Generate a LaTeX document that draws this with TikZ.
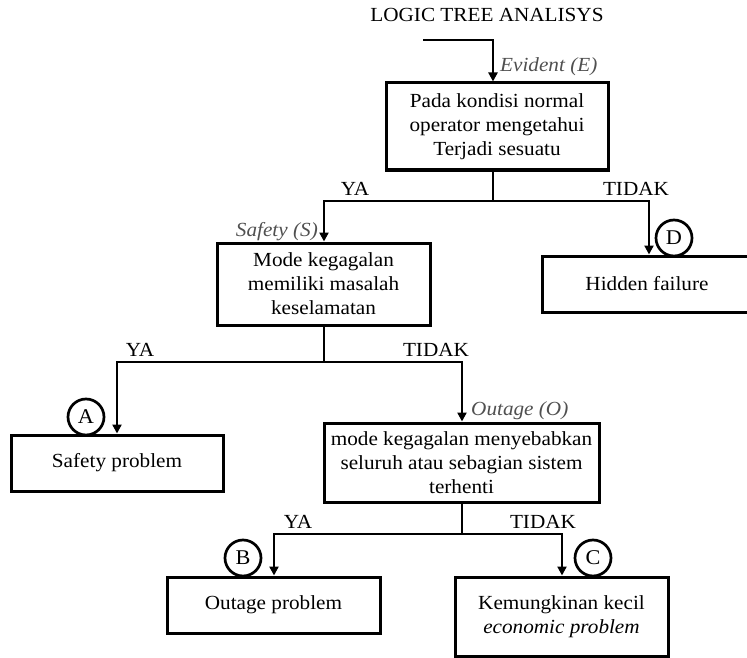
\documentclass[tikz,border=0pt]{standalone}
\usepackage{fontspec}
\setmainfont{Liberation Serif}[FakeStretch=1.06]
\usetikzlibrary{arrows.meta}
\definecolor{lblgray}{HTML}{505050}
\begin{document}
\begin{tikzpicture}[x=1pt,y=-1pt,
  box/.style={draw, line width=3pt, rectangle, inner sep=0pt, align=center, font=\fontsize{20}{24}\selectfont},
  conn/.style={line width=2.7pt},
  arr/.style={line width=2.7pt, -{Triangle[length=9pt,width=9pt]}},
  lbl/.style={font=\fontsize{20}{24}\selectfont, inner sep=0pt},
  ital/.style={font=\fontsize{20}{24}\selectfont\itshape, text=lblgray, inner sep=0pt},
  circ/.style={draw, circle, line width=2.7pt, minimum size=36pt, inner sep=0pt, font=\fontsize{21}{24}\selectfont}
]
\useasboundingbox (0,0) rectangle (747,658);

% title
\node[lbl] (title) at (487,15) {LOGIC TREE ANALISYS};

% boxes
\node[box, minimum width=222pt, minimum height=87pt] (b1) at (497,126.5) {Pada kondisi normal\\operator mengetahui\\Terjadi sesuatu};
\node[box, minimum width=213pt, minimum height=82pt] (b2) at (323.5,284) {Mode kegagalan\\memiliki masalah\\keselamatan};
\node[box, minimum width=210pt, minimum height=56pt] (bD) at (647,284) {Hidden failure};
\node[box, minimum width=212pt, minimum height=56pt] (bA) at (117,463) {Safety problem};
\node[box, minimum width=275pt, minimum height=79pt] (bO) at (461.5,462.5) {mode kegagalan menyebabkan\\seluruh atau sebagian sistem\\terhenti};
\node[box, minimum width=213pt, minimum height=56pt] (bB) at (273.5,605) {Outage problem};
\node[box, minimum width=213pt, minimum height=79pt] (bC) at (561.5,616.5) {Kemungkinan kecil\\\textit{economic problem}};

% circles
\node[circ] (cD) at (674,238) {D};
\node[circ] (cA) at (86,417) {A};
\node[circ] (cB) at (243,558) {B};
\node[circ] (cC) at (593,558) {C};

% junction coordinates
\coordinate (in0) at (423,40);
\coordinate (j1) at (493,201);
\coordinate (j1l) at (324,201);
\coordinate (j1r) at (649,201);
\coordinate (j2) at (324,362);
\coordinate (j2l) at (117,362);
\coordinate (j2r) at (462,362);
\coordinate (j3) at (462,534);
\coordinate (j3l) at (274,534);
\coordinate (j3r) at (562,534);

% connectors
\draw[arr] (in0) -- (in0 -| j1) -- (j1 |- b1.north);
\draw[conn] (j1 |- b1.south) -- (j1);
\draw[arr] (j1) -- (j1l) -- (j1l |- b2.north);
\draw[arr] (j1) -- (j1r) -- (j1r |- bD.north);

\draw[conn] (j2 |- b2.south) -- (j2);
\draw[arr] (j2) -- (j2l) -- (j2l |- bA.north);
\draw[arr] (j2) -- (j2r) -- (j2r |- bO.north);

\draw[conn] (j3 |- bO.south) -- (j3);
\draw[arr] (j3) -- (j3l) -- (j3l |- bB.north);
\draw[arr] (j3) -- (j3r) -- (j3r |- bC.north);

% labels
\node[ital, anchor=west] (lE) at (500,67) {Evident (E)};
\node[ital, anchor=east] (lS) at (318,232) {Safety (S)};
\node[ital, anchor=west] (lO) at (471,411) {Outage (O)};

\node[lbl] (y1) at (355,189) {YA};
\node[lbl] (t1) at (636,189) {TIDAK};
\node[lbl] (y2) at (140,350) {YA};
\node[lbl] (t2) at (436,350) {TIDAK};
\node[lbl] (y3) at (298,522) {YA};
\node[lbl] (t3) at (543,522) {TIDAK};
\end{tikzpicture}
\end{document}
